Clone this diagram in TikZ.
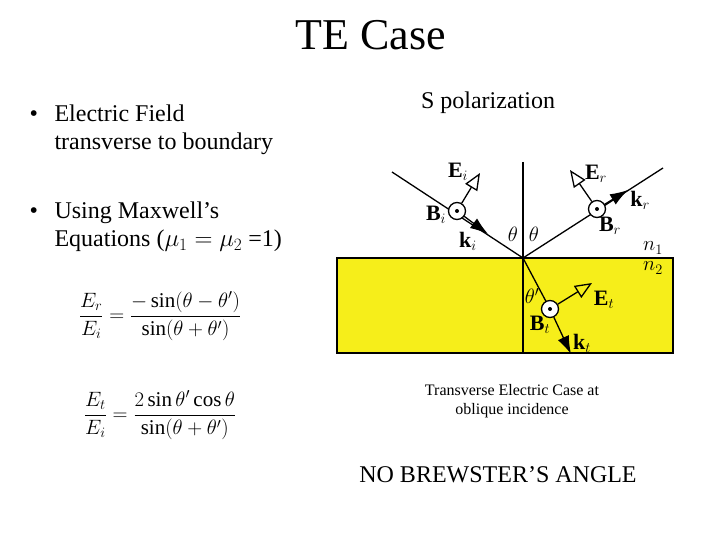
\documentclass[tikz,border=0pt]{standalone}
\usepackage{fontspec}
\setmainfont{Liberation Serif}
\usetikzlibrary{arrows.meta}
\tikzset{
  ray/.style={line width=1.3pt},
  kvec/.style={line width=1.3pt,-{Latex[length=18pt,width=12pt]}},
  evec/.style={line width=1.3pt,-{Triangle[open,length=17pt,width=14pt,line width=1.3pt]}},
  bdot/.style={circle,draw,line width=1.3pt,fill=white,minimum size=17pt,inner sep=0pt},
  lbl/.style={font=\fontsize{22}{22}\selectfont},
  body/.style={font=\fontsize{24}{28}\selectfont,anchor=west,align=left},
}
\newcommand{\bdotmark}[1]{\fill (#1) circle (2pt);}
\begin{document}
\begin{tikzpicture}[x=1pt,y=-1pt]
\useasboundingbox (0,0) rectangle (720,540);
\node[font=\fontsize{44}{44}\selectfont] (title) at (371,35) {TE Case};
\node[body] (b1) at (26,116) {•};
\node[body] (t1) at (51,130) {Electric Field\\transverse to boundary};
\node[body] (b2) at (26,213) {•};
\node[body] (t2) at (51,227) {Using Maxwell’s\\Equations ($\mu_1 = \mu_2$ =1)};
\node[font=\fontsize{21}{21}\selectfont] (eq1) at (160,316) {$\displaystyle \frac{E_r}{E_i}=\frac{-\sin(\theta-\theta')}{\sin(\theta+\theta')}$};
\node[font=\fontsize{21}{21}\selectfont] (eq2) at (160,415) {$\displaystyle \frac{E_t}{E_i}=\frac{2\sin\theta'\cos\theta}{\sin(\theta+\theta')}$};
\node[font=\fontsize{24}{24}\selectfont] (sp) at (488,103) {S polarization};
\node[font=\fontsize{16}{19}\selectfont,align=center] (cap) at (512,401) {Transverse Electric Case at\\oblique incidence};
\node[font=\fontsize{24}{24}\selectfont] (nb) at (498,475) {NO BREWSTER’S ANGLE};
% medium
\draw[fill={rgb,255:red,246;green,238;blue,26},line width=1.3pt] (337,258) rectangle (673,353);
\coordinate (O) at (523,258);
\coordinate (top) at (523,162);
\coordinate (bot) at (523,353);
\draw[ray] (top) -- (bot);
% incident
\coordinate (si) at (392,172);
\draw[ray] (si) -- (O);
\draw[kvec] (457,211) -- (488,234);
\node[bdot] (Bi) at (457,211) {};
\bdotmark{Bi}
\draw[evec] (Bi) -- (480,173);
% reflected
\coordinate (er) at (663,168);
\draw[ray] (O) -- (er);
\draw[kvec] (597,209) -- (628,190);
\node[bdot] (Br) at (597,209) {};
\bdotmark{Br}
\draw[evec] (Br) -- (570,170);
% transmitted
\draw[ray] (O) -- (550,309);
\node[bdot] (Bt) at (550,309) {};
\bdotmark{Bt}
\draw[kvec] (Bt) -- (571,354);
\draw[evec] (Bt) -- (592,283);
% labels
\node[lbl] (lEi) at (458,172) {$\mathbf{E}_i$};
\node[lbl] (lEr) at (596,174) {$\mathbf{E}_r$};
\node[lbl] (lkr) at (640,200) {$\mathbf{k}_r$};
\node[lbl] (lBi) at (436,215) {$\mathbf{B}_i$};
\node[lbl] (lBr) at (610,226) {$\mathbf{B}_r$};
\node[lbl] (lki) at (468,241) {$\mathbf{k}_i$};
\node[lbl] (th1) at (513,234) {$\theta$};
\node[lbl] (th2) at (534,234) {$\theta$};
\node[lbl] (n1) at (653,248) {$n_1$};
\node[lbl] (n2) at (653,268) {$n_2$};
\node[lbl] (thp) at (532,296) {$\theta'$};
\node[lbl] (lEt) at (604,300) {$\mathbf{E}_t$};
\node[lbl] (lBt) at (540,325) {$\mathbf{B}_t$};
\node[lbl] (lkt) at (582,343) {$\mathbf{k}_t$};
\end{tikzpicture}
\end{document}
